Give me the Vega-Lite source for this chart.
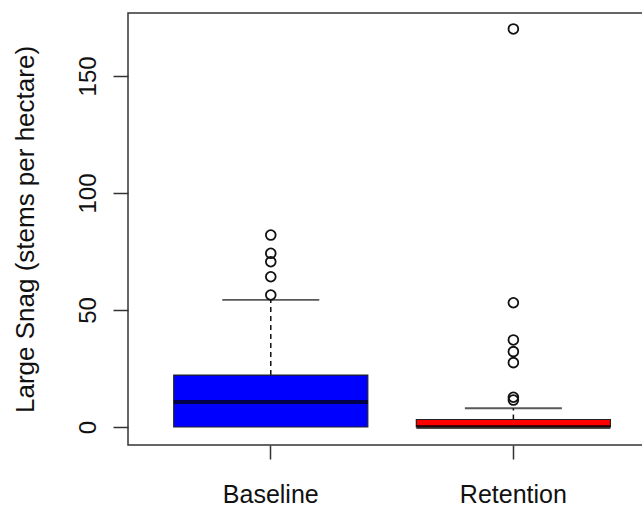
{
  "$schema": "https://vega.github.io/schema/vega-lite/v6.json",
  "width": 515,
  "height": 432,
  "autosize": {"type": "none"},
  "padding": {"left": 128, "top": 13, "right": 0, "bottom": 61},
  "background": "white",
  "config": {
    "view": {"stroke": "#333333", "strokeWidth": 1.5},
    "axis": {
      "domain": false,
      "grid": false,
      "labelFont": "Liberation Sans",
      "labelColor": "#111111",
      "titleFont": "Liberation Sans",
      "titleColor": "#111111",
      "titleFontWeight": "normal",
      "tickColor": "#333333",
      "tickWidth": 1.5
    },
    "axisY": {
      "title": "Large Snag (stems per hectare)",
      "titleFontSize": 26,
      "titleAngle": 270,
      "titleAlign": "center",
      "titleBaseline": "alphabetic",
      "titleX": -95,
      "titleY": 216,
      "labelAngle": -90,
      "labelAlign": "center",
      "labelBaseline": "alphabetic",
      "labelFontSize": 24,
      "labelPadding": 18,
      "tickSize": 15
    }
  },
  "datasets": {
    "box": [
      {"group": "Baseline", "q1": 0, "median": 10.7, "q3": 22.2, "whi": 54.3},
      {"group": "Retention", "q1": 0, "median": 0, "q3": 3.2, "whi": 8.0}
    ],
    "out": [
      {"group": "Baseline", "value": 82.0},
      {"group": "Baseline", "value": 74.2},
      {"group": "Baseline", "value": 70.6},
      {"group": "Baseline", "value": 64.2},
      {"group": "Baseline", "value": 56.4},
      {"group": "Retention", "value": 170.1},
      {"group": "Retention", "value": 53.1},
      {"group": "Retention", "value": 37.2},
      {"group": "Retention", "value": 32.2},
      {"group": "Retention", "value": 27.5},
      {"group": "Retention", "value": 12.7},
      {"group": "Retention", "value": 11.5}
    ]
  },
  "encoding": {
    "x": {
      "field": "group",
      "type": "nominal",
      "sort": ["Baseline", "Retention"],
      "scale": {"paddingInner": 0.2, "paddingOuter": 0.1614, "align": 0.584},
      "axis": {
        "title": null,
        "labelAngle": 0,
        "labelFontSize": 25,
        "labelBaseline": "alphabetic",
        "labelPadding": 43,
        "tickSize": 14
      }
    }
  },
  "layer": [
    {
      "data": {"name": "box"},
      "mark": {"type": "rule", "strokeDash": [5, 4], "strokeWidth": 1.5, "color": "#111111"},
      "encoding": {
        "y": {
          "field": "q3",
          "type": "quantitative",
          "title": "Large Snag (stems per hectare)",
          "scale": {"domain": [-7.7, 176.9], "nice": false, "zero": false},
          "axis": {"values": [0, 50, 100, 150]}
        },
        "y2": {"field": "whi"}
      }
    },
    {
      "data": {"name": "box"},
      "mark": {"type": "tick", "size": 97, "thickness": 1.8, "color": "#111111"},
      "encoding": {
        "y": {"field": "whi", "type": "quantitative", "title": "Large Snag (stems per hectare)"}
      }
    },
    {
      "data": {"name": "box"},
      "mark": {"type": "bar", "stroke": "#222222", "strokeWidth": 1.2},
      "encoding": {
        "y": {"field": "q1", "type": "quantitative", "title": "Large Snag (stems per hectare)"},
        "y2": {"field": "q3"},
        "fill": {
          "field": "group",
          "type": "nominal",
          "scale": {"domain": ["Baseline", "Retention"], "range": ["#0000FF", "#FF0000"]},
          "legend": null
        }
      }
    },
    {
      "data": {"name": "box"},
      "mark": {"type": "tick", "size": 194, "thickness": 4, "color": "#000000"},
      "encoding": {
        "y": {"field": "median", "type": "quantitative", "title": "Large Snag (stems per hectare)"}
      }
    },
    {
      "data": {"name": "out"},
      "mark": {"type": "point", "shape": "circle", "filled": false, "stroke": "#111111", "strokeWidth": 1.8, "size": 95, "opacity": 1},
      "encoding": {
        "y": {"field": "value", "type": "quantitative", "title": "Large Snag (stems per hectare)"}
      }
    }
  ]
}
